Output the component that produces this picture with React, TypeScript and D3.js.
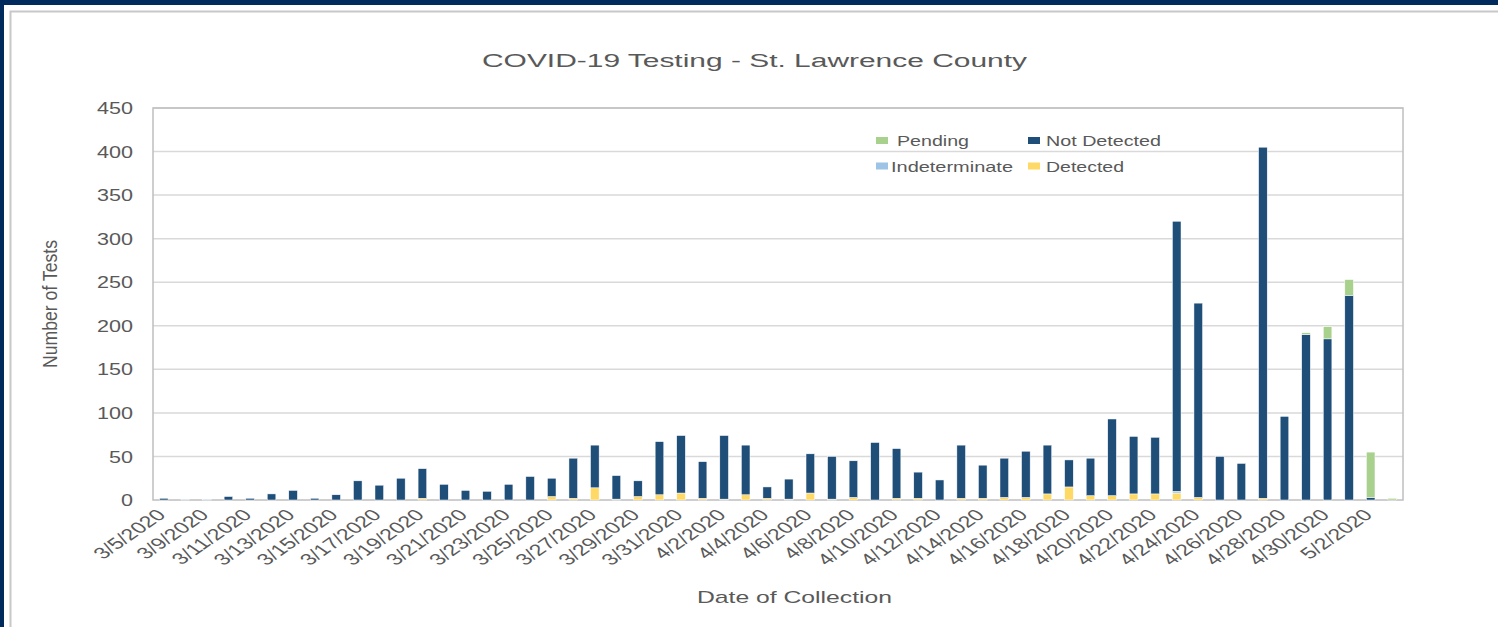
import * as d3 from 'd3'
import { useEffect, useRef } from 'react'

const dates = [
  '3/5/2020', '3/7/2020', '3/9/2020', '3/10/2020', '3/11/2020', '3/12/2020', '3/13/2020', '3/14/2020',
  '3/15/2020', '3/16/2020', '3/17/2020', '3/18/2020', '3/19/2020', '3/20/2020', '3/21/2020', '3/22/2020',
  '3/23/2020', '3/24/2020', '3/25/2020', '3/26/2020', '3/27/2020', '3/28/2020', '3/29/2020', '3/30/2020',
  '3/31/2020', '4/1/2020', '4/2/2020', '4/3/2020', '4/4/2020', '4/5/2020', '4/6/2020', '4/7/2020',
  '4/8/2020', '4/9/2020', '4/10/2020', '4/11/2020', '4/12/2020', '4/13/2020', '4/14/2020', '4/15/2020',
  '4/16/2020', '4/17/2020', '4/18/2020', '4/19/2020', '4/20/2020', '4/21/2020', '4/22/2020', '4/23/2020',
  '4/24/2020', '4/25/2020', '4/26/2020', '4/27/2020', '4/28/2020', '4/29/2020', '4/30/2020', '5/1/2020',
  '5/2/2020', '5/3/2020',
]

const detected = [
  0, 0, 0, 0, 0, 0, 0, 0, 0, 0, 0, 0, 2, 0, 0, 0, 0, 0, 4, 2, 14, 1, 4, 6, 8, 2, 1, 6, 2, 1,
  8, 1, 3, 0, 2, 2, 0, 2, 2, 3, 3, 7, 15, 5, 5, 7, 7, 8, 3, 0, 0, 2, 0, 0, 0, 0, 0, 0,
]
const indeterminate = [
  0, 1, 1, 0, 0, 0, 0, 0, 0, 0, 0, 0, 0, 0, 0, 0, 0, 0, 0, 0, 0, 0, 0, 0, 0, 0, 0, 0, 0, 0,
  0, 0, 0, 0, 0, 0, 0, 0, 0, 0, 0, 0, 0, 0, 0, 0, 0, 2, 0, 0, 0, 0, 0, 0, 0, 0, 0, 0,
]
const notDetected = [
  2, 0, 0, 4, 2, 7, 11, 2, 6, 22, 17, 25, 34, 18, 11, 10, 18, 27, 21, 46, 49, 27, 18, 61, 66, 42, 73, 57, 13, 23,
  45, 49, 42, 66, 57, 30, 23, 61, 38, 45, 53, 56, 31, 43, 88, 66, 65, 310, 223, 50, 42, 403, 96, 190, 185, 235, 3, 0,
]
const pending = [
  0, 0, 0, 0, 0, 0, 0, 0, 0, 0, 0, 0, 0, 0, 0, 0, 0, 0, 0, 0, 0, 0, 0, 0, 0, 0, 0, 0, 0, 0,
  0, 0, 0, 0, 0, 0, 0, 0, 0, 0, 0, 0, 0, 0, 0, 0, 0, 0, 0, 0, 0, 0, 0, 2, 14, 18, 52, 2,
]

const seriesNames = ['Detected', 'Indeterminate', 'Not Detected', 'Pending']
const seriesColors = ['#ffd966', '#9dc3e6', '#1f4e79', '#a9d18e']
const yTicks = [0, 50, 100, 150, 200, 250, 300, 350, 400, 450]

export default function App() {
  const svgRef = useRef<SVGSVGElement>(null)

  useEffect(() => {
    const svg = d3.select(svgRef.current)
    svg.selectAll('*').remove()
    const W = 1498
    const H = 627
    const left = 153
    const right = 1403
    const top = 108
    const bottom = 500
    const font = "'Liberation Sans', Arial, sans-serif"
    const textColor = '#595959'

    // navy outer border + white card
    svg.append('rect').attr('width', W).attr('height', H).attr('fill', '#002b5c')
    svg.append('rect').attr('x', 4).attr('y', 5).attr('width', W).attr('height', H).attr('fill', '#fff')
    svg
      .append('rect')
      .attr('x', 10.5)
      .attr('y', 11.5)
      .attr('width', W)
      .attr('height', H)
      .attr('fill', 'none')
      .attr('stroke', '#c8c8c8')
      .attr('stroke-width', 2)

    const rows = dates.map((d, i) => ({
      date: d,
      Detected: detected[i],
      Indeterminate: indeterminate[i],
      'Not Detected': notDetected[i],
      Pending: pending[i],
    }))

    const x = d3.scaleBand().domain(dates).range([left, right]).paddingInner(0.6).paddingOuter(0.3)
    const y = d3.scaleLinear().domain([0, 450]).range([bottom, top])

    // grid
    svg
      .append('g')
      .selectAll('line')
      .data(yTicks.slice(1))
      .join('line')
      .attr('x1', left)
      .attr('x2', right)
      .attr('y1', (d) => y(d))
      .attr('y2', (d) => y(d))
      .attr('stroke', '#d9d9d9')
      .attr('stroke-width', 1.5)

    svg
      .append('rect')
      .attr('x', left)
      .attr('y', top)
      .attr('width', right - left)
      .attr('height', bottom - top)
      .attr('fill', 'none')
      .attr('stroke', '#bfbfbf')
      .attr('stroke-width', 1.5)

    // y tick labels
    svg
      .append('g')
      .selectAll('text')
      .data(yTicks)
      .join('text')
      .attr('x', 133)
      .attr('y', (d) => y(d))
      .attr('dy', '0.36em')
      .attr('text-anchor', 'end')
      .attr('font-family', font)
      .attr('font-size', 17)
      .attr('fill', textColor)
      .attr('textLength', (d) => String(d).length * 12)
      .attr('lengthAdjust', 'spacingAndGlyphs')
      .text((d) => d)

    // stacked bars
    const stacked = d3.stack<any>().keys(seriesNames)(rows)
    svg
      .append('g')
      .selectAll('g')
      .data(stacked)
      .join('g')
      .attr('fill', (_d, i) => seriesColors[i])
      .selectAll('rect')
      .data((s) => s.filter((p) => p[1] - p[0] > 0))
      .join('rect')
      .attr('x', (p: any) => x(p.data.date)!)
      .attr('width', x.bandwidth())
      .attr('y', (p) => y(p[1]))
      .attr('height', (p) => y(p[0]) - y(p[1]))
      .attr('stroke', '#ffffff')
      .attr('stroke-width', 0.5)

    // x tick labels (every other date)
    svg
      .append('g')
      .selectAll('text')
      .data(dates.filter((_d, i) => i % 2 === 0))
      .join('text')
      .attr('transform', (d) => `translate(${x(d)! + x.bandwidth() / 2 + 3},516) scale(1.45,1) rotate(-45)`)
      .attr('text-anchor', 'end')
      .attr('font-family', font)
      .attr('font-size', 16)
      .attr('fill', textColor)
      .text((d) => d)

    // title
    svg
      .append('text')
      .attr('x', 482)
      .attr('y', 67)
      .attr('font-family', font)
      .attr('font-size', 18)
      .attr('fill', textColor)
      .attr('textLength', 545)
      .attr('lengthAdjust', 'spacingAndGlyphs')
      .text('COVID-19 Testing - St. Lawrence County')

    // axis titles
    svg
      .append('text')
      .attr('x', 697)
      .attr('y', 603)
      .attr('font-family', font)
      .attr('font-size', 17)
      .attr('fill', textColor)
      .attr('textLength', 195)
      .attr('lengthAdjust', 'spacingAndGlyphs')
      .text('Date of Collection')

    svg
      .append('text')
      .attr('transform', `translate(57,${(top + bottom) / 2}) scale(1.3,1) rotate(-90)`)
      .attr('text-anchor', 'middle')
      .attr('font-family', font)
      .attr('font-size', 16)
      .attr('fill', textColor)
      .attr('textLength', 128)
      .attr('lengthAdjust', 'spacingAndGlyphs')
      .text('Number of Tests')

    // legend
    const legendItems = [
      { name: 'Pending', color: seriesColors[3], mx: 876, tx: 897, row: 0, len: 72 },
      { name: 'Not Detected', color: seriesColors[2], mx: 1028, tx: 1046, row: 0, len: 115 },
      { name: 'Indeterminate', color: seriesColors[1], mx: 876, tx: 891, row: 1, len: 122 },
      { name: 'Detected', color: seriesColors[0], mx: 1028, tx: 1046, row: 1, len: 78 },
    ]
    const legend = svg.append('g')
    legend
      .selectAll('rect')
      .data(legendItems)
      .join('rect')
      .attr('x', (d) => d.mx)
      .attr('y', (d) => 137 + d.row * 25.5)
      .attr('width', 12)
      .attr('height', 7)
      .attr('fill', (d) => d.color)
    legend
      .selectAll('text')
      .data(legendItems)
      .join('text')
      .attr('x', (d) => d.tx)
      .attr('y', (d) => 146 + d.row * 25.5)
      .attr('font-family', font)
      .attr('font-size', 15)
      .attr('fill', textColor)
      .attr('textLength', (d) => d.len)
      .attr('lengthAdjust', 'spacingAndGlyphs')
      .text((d) => d.name)
  }, [])

  return (
    <div style={{ position: 'fixed', left: 0, top: 0, width: 1498, height: 627, background: '#fff' }}>
      <svg ref={svgRef} width={1498} height={627} style={{ display: 'block' }} />
    </div>
  )
}
